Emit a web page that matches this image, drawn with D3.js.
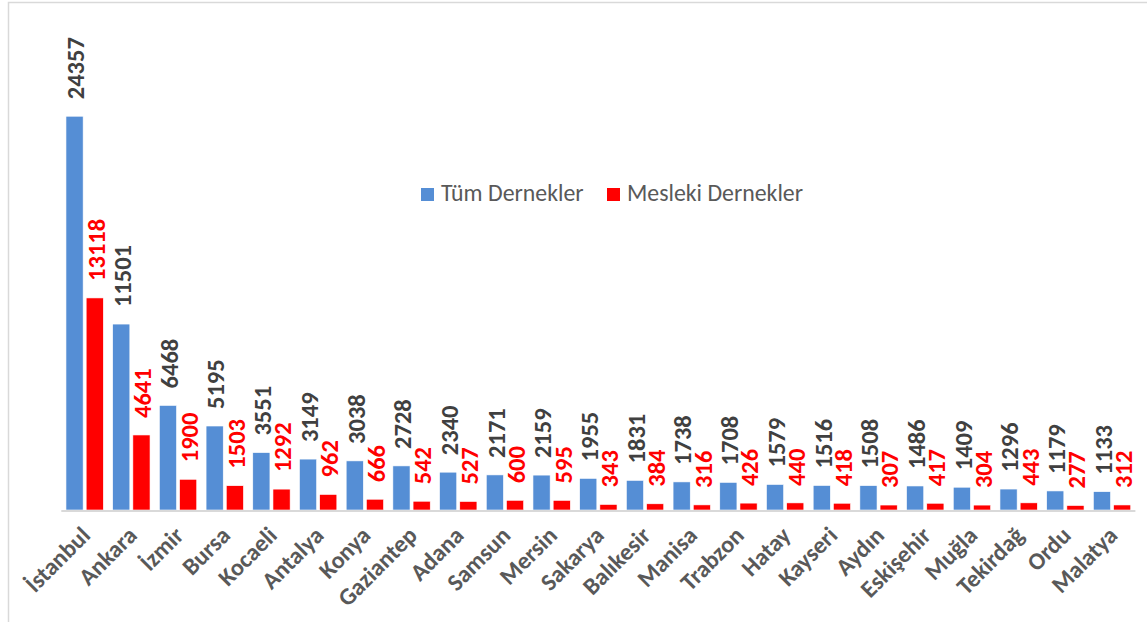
<!DOCTYPE html>
<html>
<head>
<meta charset="utf-8">
<script src="https://cdn.jsdelivr.net/npm/d3@7"></script>
<style>
  body { margin: 0; background: #fff; }
  svg { display: block; font-family: Carlito, Calibri, Lato, sans-serif; }
</style>
</head>
<body>
<svg width="1147" height="622"></svg>
<script>
const cities = ["İstanbul", "Ankara", "İzmir", "Bursa", "Kocaeli", "Antalya", "Konya", "Gaziantep",
    "Adana", "Samsun", "Mersin", "Sakarya", "Balıkesir", "Manisa", "Trabzon", "Hatay", "Kayseri",
    "Aydın", "Eskişehir", "Muğla", "Tekirdağ", "Ordu", "Malatya"];
const tumDernekler = [24357, 11501, 6468, 5195, 3551, 3149, 3038, 2728, 2340, 2171, 2159, 1955,
    1831, 1738, 1708, 1579, 1516, 1508, 1486, 1409, 1296, 1179, 1133];
const meslekiDernekler = [13118, 4641, 1900, 1503, 1292, 962, 666, 542, 527, 600, 595, 343,
    384, 316, 426, 440, 418, 307, 417, 304, 443, 277, 312];
const seriesNames = ["Tüm Dernekler", "Mesleki Dernekler"];
const seriesColors = ["#558ed5", "#ff0000"];
const labelColors = ["#404040", "#ff0000"];

const svg = d3.select("svg");

// frame
svg.append("rect")
    .attr("x", 8.5).attr("y", 2.5)
    .attr("width", 1200).attr("height", 700)
    .attr("fill", "none").attr("stroke", "#d9d9d9").attr("stroke-width", 1.5);

const x = d3.scaleBand()
    .domain(cities)
    .range([61.3, 1135.4])
    .paddingInner(0.2)
    .paddingOuter(0.1);

const xs = d3.scaleBand()
    .domain([0, 1])
    .range([0, x.bandwidth()])
    .paddingInner(0.15);

const y = d3.scaleLinear()
    .domain([0, 30000])
    .range([510, 25]);

const rows = cities.map((c, i) => ({ city: c, values: [tumDernekler[i], meslekiDernekler[i]] }));

const group = svg.selectAll(".grp")
    .data(rows)
    .enter().append("g")
    .attr("class", "grp")
    .attr("transform", d => "translate(" + x(d.city) + ",0)");

group.selectAll("rect")
    .data(d => d.values.map((v, k) => ({ k: k, v: v })))
    .enter().append("rect")
    .attr("x", d => xs(d.k))
    .attr("y", d => y(d.v))
    .attr("width", xs.bandwidth())
    .attr("height", d => y(0) - y(d.v))
    .attr("fill", d => seriesColors[d.k])
    .attr("stroke", "#ffffff")
    .attr("stroke-width", 0.6);

group.selectAll("text.val")
    .data(d => d.values.map((v, k) => ({ k: k, v: v })))
    .enter().append("text")
    .attr("class", "val")
    .attr("transform", d => "translate(" + (xs(d.k) + xs.bandwidth() / 2 + 1) + "," + (y(d.v) - 17) + ") rotate(-90)")
    .attr("dy", "0.36em")
    .attr("font-size", 24.5)
    .attr("font-weight", "bold")
    .attr("fill", d => labelColors[d.k])
    .text(d => d.v);

// baseline
svg.append("line")
    .attr("x1", x.range()[0]).attr("x2", x.range()[1])
    .attr("y1", y(0) + 1).attr("y2", y(0) + 1)
    .attr("stroke", "#d9d9d9").attr("stroke-width", 2);

// category labels
svg.selectAll(".cat")
    .data(cities)
    .enter().append("text")
    .attr("class", "cat")
    .attr("transform", d => "translate(" + (x(d) + x.bandwidth() / 2 + 1) + ",531) rotate(-45)")
    .attr("dy", "0.35em")
    .attr("text-anchor", "end")
    .attr("font-size", 24)
    .attr("font-weight", "bold")
    .attr("fill", "#595959")
    .text(d => d);

// legend
const legendX = [421, 607];
const legend = svg.selectAll(".leg")
    .data(seriesNames)
    .enter().append("g")
    .attr("class", "leg")
    .attr("transform", (d, i) => "translate(" + legendX[i] + ",188)");

legend.append("rect")
    .attr("width", 13).attr("height", 13)
    .attr("fill", (d, i) => seriesColors[i]);

legend.append("text")
    .attr("x", 20).attr("y", 13)
    .attr("font-size", 23.8)
    .attr("fill", "#595959")
    .text(d => d);
</script>
</body>
</html>
